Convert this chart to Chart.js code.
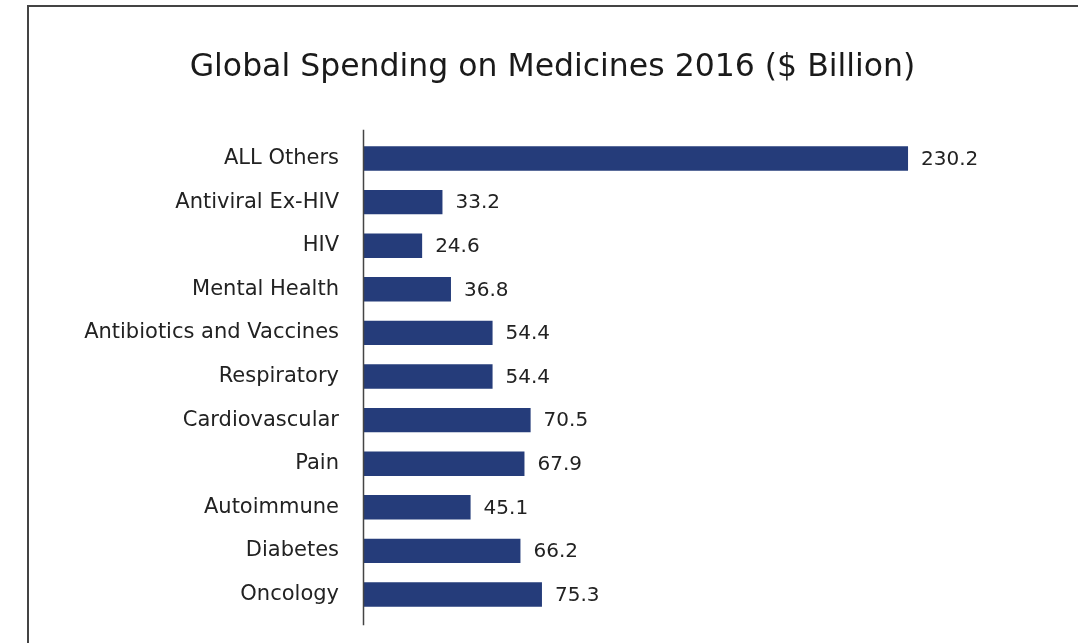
<!DOCTYPE html>
<html>
<head>
<meta charset="utf-8">
<script src="https://cdn.jsdelivr.net/npm/chart.js@4.4.1/dist/chart.umd.min.js"></script>
<style>
  html, body { margin: 0; padding: 0; background: #fff; overflow: hidden; }
  #frame {
    position: absolute; left: 27px; top: 5px; width: 1100px; height: 700px;
    border-left: 2px solid #444; border-top: 2px solid #444;
  }
  #wrap { position: absolute; left: 32px; top: 0; width: 1046px; height: 643px; }
</style>
</head>
<body>
<div id="frame"></div>
<div id="wrap"><canvas id="myChart"></canvas></div>
<script>
const categories = ["ALL Others", "Antiviral Ex-HIV", "HIV", "Mental Health", "Antibiotics and Vaccines",
  "Respiratory", "Cardiovascular", "Pain", "Autoimmune", "Diabetes", "Oncology"];
const spending = [230.2, 33.2, 24.6, 36.8, 54.4, 54.4, 70.5, 67.9, 45.1, 66.2, 75.3];
const valueLabels = ["230.2", "33.2", "24.6", "36.8", "54.4", "54.4", "70.5", "67.9", "45.1", "66.2", "75.3"];

const barColor = "#253c7a";
const textColor = "#222222";
const fontName = "'DejaVu Sans', sans-serif";

// value text at the end of each bar
const valuePlugin = {
  id: "valuePlugin",
  afterDatasetsDraw(chart) {
    const ctx = chart.ctx;
    const meta = chart.getDatasetMeta(0);
    ctx.save();
    ctx.font = "20px " + fontName;
    ctx.fillStyle = textColor;
    ctx.textAlign = "left";
    ctx.textBaseline = "middle";
    meta.data.forEach((bar, i) => {
      ctx.fillText(valueLabels[i], bar.x + 13, bar.y + 1);
    });
    ctx.restore();
  }
};

// vertical axis line, a bit longer than the plot area
const axisLinePlugin = {
  id: "axisLinePlugin",
  afterDraw(chart) {
    const ctx = chart.ctx;
    const a = chart.chartArea;
    ctx.save();
    ctx.strokeStyle = "#444";
    ctx.lineWidth = 1.5;
    ctx.beginPath();
    ctx.moveTo(a.left - 0.5, a.top - 7);
    ctx.lineTo(a.left - 0.5, a.bottom + 9);
    ctx.stroke();
    ctx.restore();
  }
};

const ctx = document.getElementById("myChart").getContext("2d");
const myChart = new Chart(ctx, {
  type: "bar",
  data: {
    labels: categories,
    datasets: [{
      label: "Spending",
      data: spending,
      backgroundColor: barColor,
      categoryPercentage: 1,
      barPercentage: 0.56
    }]
  },
  options: {
    indexAxis: "y",
    responsive: true,
    maintainAspectRatio: false,
    animation: false,
    layout: { padding: { left: 0, right: 5, top: 0, bottom: 26.7 } },
    plugins: {
      legend: { display: false },
      tooltip: { enabled: false },
      title: {
        display: true,
        text: "Global Spending on Medicines 2016 ($ Billion)",
        color: "#1a1a1a",
        font: { family: fontName, size: 31.5, weight: "normal" },
        padding: { top: 49, bottom: 49.9 }
      }
    },
    scales: {
      x: {
        display: false,
        min: 0,
        max: 300
      },
      y: {
        afterFit(scale) {
          scale.width = 332;
          scale.paddingTop = 0;
          scale.paddingBottom = 0;
        },
        grid: { display: false, drawTicks: false },
        border: { display: false },
        ticks: {
          color: textColor,
          padding: 25,
          font: { family: fontName, size: 21 }
        }
      }
    }
  },
  plugins: [valuePlugin, axisLinePlugin]
});
</script>
</body>
</html>
